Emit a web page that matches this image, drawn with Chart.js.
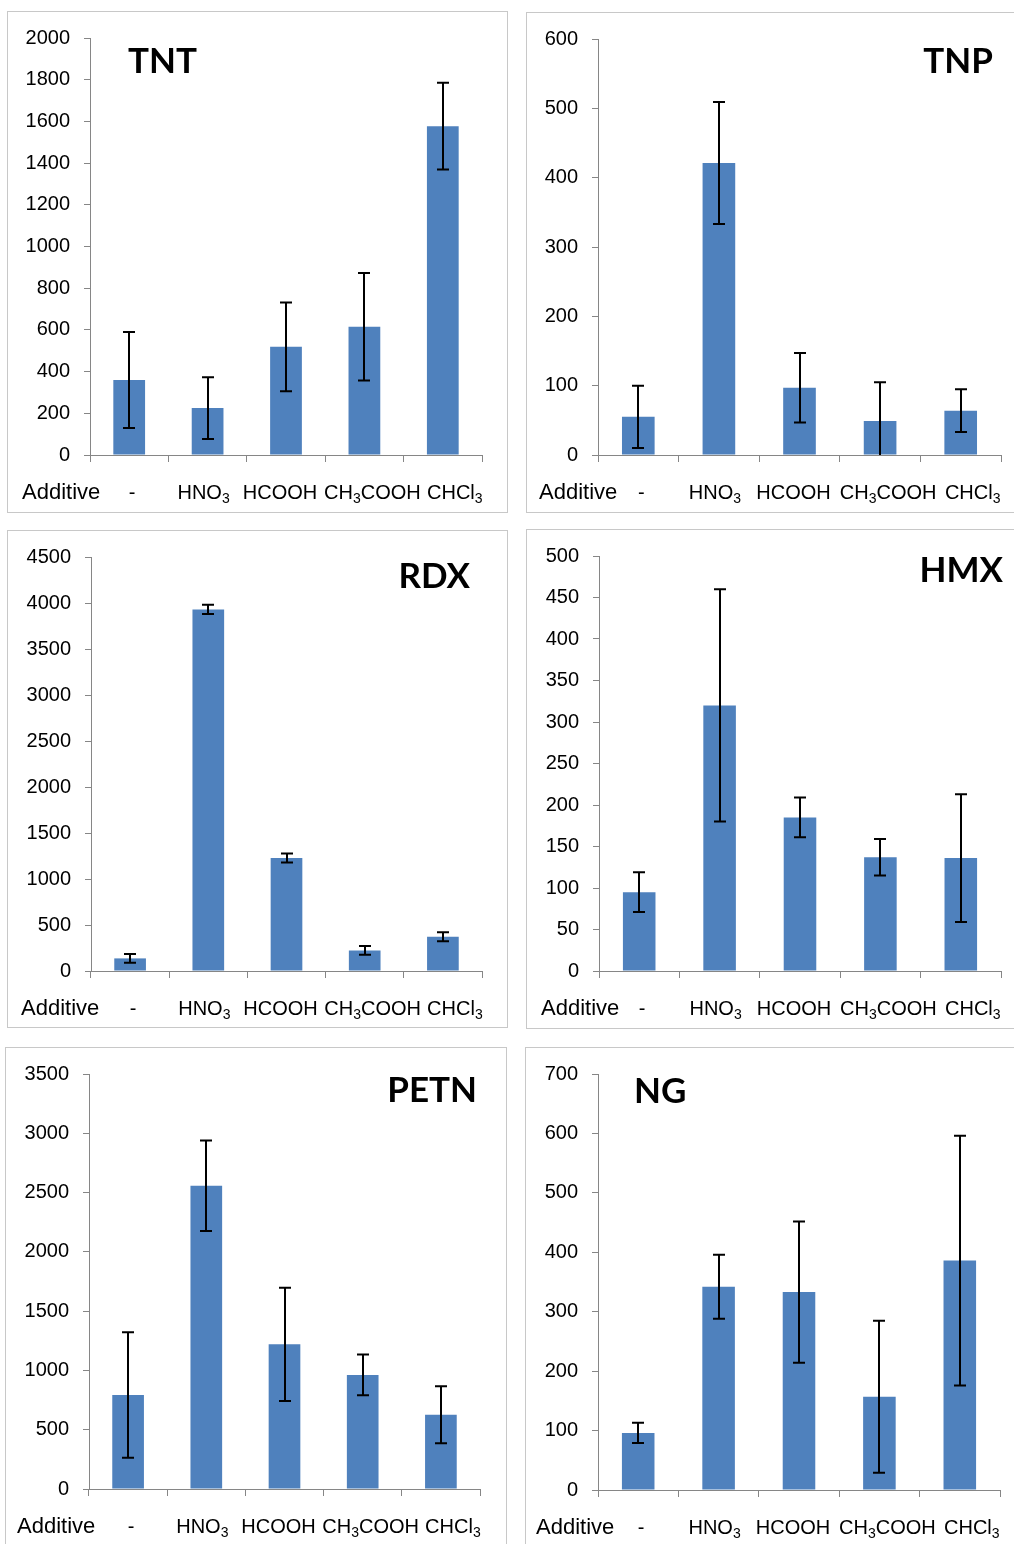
<!DOCTYPE html>
<html><head><meta charset="utf-8">
<script src="https://cdn.jsdelivr.net/npm/chart.js@4/dist/chart.umd.min.js"></script>
<style>
html,body{margin:0;padding:0;background:#fff;width:1014px;height:1544px;overflow:hidden;position:relative}
.panel{position:absolute;border:1px solid #c8c8c8;box-sizing:border-box;background:#fff;overflow:hidden}
.panel canvas{position:absolute;left:0;top:0}
</style></head><body>
<script>
// ---------- data ----------
const categories = ['-', 'HNO₃', 'HCOOH', 'CH₃COOH', 'CHCl₃'];
const axisTitle = 'Additive';
const chartNames = ['TNT', 'TNP', 'RDX', 'HMX', 'PETN', 'NG'];

const tntValues  = [360, 225, 519, 615, 1577];
const tntErrors  = [230, 148, 213, 258, 208];
const tnpValues  = [55, 421, 97, 49, 64];
const tnpErrors  = [45, 88, 50, 56, 31];
const rdxValues  = [137, 3930, 1228, 224, 372];
const rdxErrors  = [47, 50, 50, 47, 49];
const hmxValues  = [95, 320, 185, 137, 136];
const hmxErrors  = [24, 140, 24, 22, 77];
const petnValues = [792, 2558, 1220, 962, 626];
const petnErrors = [529, 382, 478, 172, 240];
const ngValues   = [96, 342, 333, 157, 386];
const ngErrors   = [17, 54, 119, 128, 210];

// y-axis tick ranges [max, step]
const tntTicks  = [2000, 200];
const tnpTicks  = [600, 100];
const rdxTicks  = [4500, 500];
const hmxTicks  = [500, 50];
const petnTicks = [3500, 500];
const ngTicks   = [700, 100];

const seriesValues = [tntValues, tnpValues, rdxValues, hmxValues, petnValues, ngValues];
const seriesErrors = [tntErrors, tnpErrors, rdxErrors, hmxErrors, petnErrors, ngErrors];
const seriesTicks  = [tntTicks, tnpTicks, rdxTicks, hmxTicks, petnTicks, ngTicks];

// ---------- layout (page pixels) ----------
// box: [left, top, width, height]; area: [left, top, right, bottom] of plot area
const panelLayout = [
  {box:[7,11,501,502],    area:[90,38,482,455],      title:{x:128, y:73, align:'left'},   addX:22},
  {box:[526,12,492,501],  area:[598,38,1001,455],    title:{x:993, y:73, align:'right'},  addX:539},
  {box:[7,530,501,498],   area:[91,556,482,971],     title:{x:470, y:588, align:'right'}, addX:21},
  {box:[526,529,492,500], area:[599,555,1001,971],   title:{x:1003, y:582, align:'right'},addX:541},
  {box:[5,1047,502,500],  area:[89,1073,480,1489],   title:{x:477, y:1102, align:'right'},addX:17},
  {box:[525,1047,492,500],area:[598,1074,1000,1490], title:{x:634, y:1103, align:'left'}, addX:536}
];
const labelShift = [3, -4, -6, 8, 12];

const BAR_COLOR = '#4F81BD';
const AXIS_COLOR = '#868686';
const FONT_FAMILY = '"Liberation Sans", Arial, sans-serif';
const TICK_FONT = {family:FONT_FAMILY, size:20};

const errorBarPlugin = {
  id:'errorBars',
  afterDatasetsDraw(chart, args, opts){
    const ctx = chart.ctx, ys = chart.scales.y, ca = chart.chartArea;
    const meta = chart.getDatasetMeta(0);
    ctx.save();
    ctx.beginPath();
    ctx.rect(ca.left, ca.top - 10, ca.right - ca.left, ca.bottom - ca.top + 10);
    ctx.clip();
    ctx.strokeStyle = '#000';
    ctx.lineWidth = 2;
    meta.data.forEach((bar, i) => {
      const v = opts.values[i], e = opts.errors[i];
      const yt = ys.getPixelForValue(v + e), yb = ys.getPixelForValue(v - e);
      const x = Math.round(bar.x);
      ctx.beginPath();
      ctx.moveTo(x, yt); ctx.lineTo(x, yb);
      ctx.moveTo(x - 6, yt); ctx.lineTo(x + 6, yt);
      ctx.moveTo(x - 6, yb); ctx.lineTo(x + 6, yb);
      ctx.stroke();
    });
    ctx.restore();
  }
};

// split a label into [text, isSubscript] runs
function runsOf(label){
  const subs = '₀₁₂₃₄₅₆₇₈₉';
  const runs = [];
  for (const ch of label){
    const k = subs.indexOf(ch);
    const sub = k >= 0;
    const c = sub ? String(k) : ch;
    if (runs.length && runs[runs.length-1][1] === sub) runs[runs.length-1][0] += c;
    else runs.push([c, sub]);
  }
  return runs;
}

const labelPlugin = {
  id:'panelLabels',
  afterDraw(chart, args, opts){
    const ctx = chart.ctx, xs = chart.scales.x, ca = chart.chartArea;
    const base = ca.bottom + 44;
    ctx.save();
    ctx.fillStyle = '#000';
    // panel name
    ctx.font = 'bold 35px Lato, "Open Sans", sans-serif';
    ctx.textAlign = opts.title.align;
    ctx.textBaseline = 'alphabetic';
    ctx.fillText(opts.name, opts.title.x - opts.ox, opts.title.y - opts.oy);
    // "Additive"
    ctx.font = '22px ' + FONT_FAMILY;
    ctx.textAlign = 'left';
    ctx.fillText(axisTitle, opts.addX - opts.ox, base);
    // category labels with subscripts
    const mainFont = '20px ' + FONT_FAMILY, subFont = '14px ' + FONT_FAMILY;
    categories.forEach((lab, i) => {
      const runs = runsOf(lab);
      let w = 0;
      runs.forEach(r => { ctx.font = r[1] ? subFont : mainFont; w += ctx.measureText(r[0]).width; });
      let x = xs.getPixelForValue(i) + labelShift[i] - w / 2;
      runs.forEach(r => {
        ctx.font = r[1] ? subFont : mainFont;
        ctx.fillText(r[0], x, r[1] ? base + 4 : base);
        x += ctx.measureText(r[0]).width;
      });
    });
    ctx.restore();
  }
};

chartNames.forEach((name, idx) => {
  const L = panelLayout[idx];
  const [bl, bt, bw, bh] = L.box;
  const div = document.createElement('div');
  div.className = 'panel';
  div.style.left = bl + 'px'; div.style.top = bt + 'px';
  div.style.width = bw + 'px'; div.style.height = bh + 'px';
  document.body.appendChild(div);
  const cw = bw - 2, ch = bh - 2;
  const ox = bl + 1, oy = bt + 1;
  const canvas = document.createElement('canvas');
  canvas.width = cw; canvas.height = ch;
  canvas.style.width = cw + 'px'; canvas.style.height = ch + 'px';
  div.appendChild(canvas);
  const [al, at, ar, ab] = L.area;
  const yW = al - ox;
  const padTop = at - oy;
  const padRight = cw - (ar - ox);
  const xH = ch - (ab - oy);
  const [ymax, ystep] = seriesTicks[idx];

  new Chart(canvas, {
    type:'bar',
    data:{
      labels:categories,
      datasets:[{data:seriesValues[idx], backgroundColor:BAR_COLOR, borderWidth:0,
                 barPercentage:0.405, categoryPercentage:1}]
    },
    options:{
      responsive:false, animation:false, devicePixelRatio:1,
      layout:{padding:{left:0, top:padTop, right:padRight, bottom:0}},
      plugins:{
        legend:{display:false}, tooltip:{enabled:false}, title:{display:false},
        errorBars:{values:seriesValues[idx], errors:seriesErrors[idx]},
        panelLabels:{name, title:L.title, addX:L.addX, ox, oy}
      },
      scales:{
        x:{
          grid:{offset:true, drawOnChartArea:false, drawTicks:true, tickLength:7, color:AXIS_COLOR, lineWidth:1},
          border:{display:true, color:AXIS_COLOR, width:1},
          ticks:{display:false},
          afterFit(s){ s.height = xH; }
        },
        y:{
          min:0, max:ymax,
          grid:{drawOnChartArea:false, drawTicks:true, tickLength:6, color:AXIS_COLOR, lineWidth:1},
          border:{display:true, color:AXIS_COLOR, width:1},
          ticks:{stepSize:ystep, font:TICK_FONT, color:'#000', padding:14,
                 callback:(v) => String(v)},
          afterFit(s){ s.width = yW; }
        }
      }
    },
    plugins:[errorBarPlugin, labelPlugin]
  });
});
</script>
</body></html>
